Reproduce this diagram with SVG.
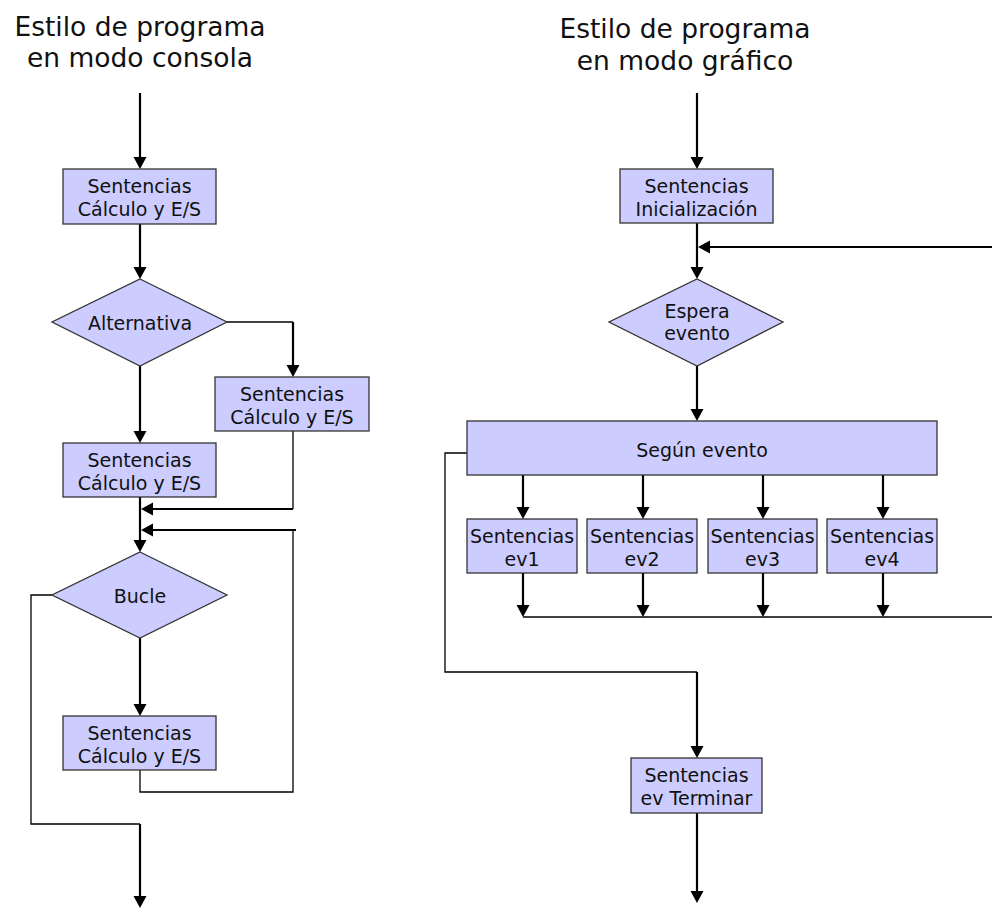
<svg xmlns="http://www.w3.org/2000/svg" width="992" height="910" viewBox="0 0 992 910">
<style>
  .node rect, .node polygon { fill: #CCCCFF; stroke: #333333; stroke-width: 1.3; }
  .node text { font-family: "DejaVu Sans", Verdana, sans-serif; font-size: 19px; fill: #111111; text-anchor: middle; }
  .title { font-family: "DejaVu Sans", Verdana, sans-serif; font-size: 26.5px; fill: #111111; text-anchor: middle; }
  .arr { stroke: #000000; stroke-width: 2.2; fill: none; marker-end: url(#ah); }
  .thin { stroke: #000000; stroke-width: 1.3; fill: none; }
</style>
<defs>
  <marker id="ah" markerUnits="userSpaceOnUse" markerWidth="14" markerHeight="14" refX="9" refY="7" orient="auto">
    <path d="M0,0.5 L12,7 L0,13.5 z" fill="#000000"/>
  </marker>
</defs>
<rect width="992" height="910" fill="#FFFFFF"/>

<g id="title-left">
  <text class="title" x="140" y="36">Estilo de programa</text>
  <text class="title" x="140" y="67">en modo consola</text>
</g>
<g id="title-right">
  <text class="title" x="685" y="38">Estilo de programa</text>
  <text class="title" x="685" y="70">en modo gráfico</text>
</g>

<g id="connectors">
  <!-- left -->
  <line class="arr" x1="140" y1="93" x2="140" y2="166"/>
  <line class="arr" x1="140" y1="224" x2="140" y2="276"/>
  <path class="thin" d="M227,322 H293"/>
  <line class="arr" x1="293" y1="322" x2="293" y2="374"/>
  <line class="arr" x1="140" y1="366" x2="140" y2="440"/>
  <line class="arr" x1="140" y1="497" x2="140" y2="549"/>
  <path class="thin" d="M293,431 V509"/>
  <line class="arr" x1="293" y1="509" x2="144" y2="509"/>
  <line class="arr" x1="296" y1="530" x2="144" y2="530"/>
  <path class="thin" d="M293,530 V792 H140 V770"/>
  <line class="arr" x1="140" y1="638" x2="140" y2="713"/>
  <path class="thin" d="M52,595 H31 V824 H140"/>
  <line class="arr" x1="140" y1="824" x2="140" y2="905"/>
  <!-- right -->
  <line class="arr" x1="697" y1="93" x2="697" y2="166"/>
  <line class="arr" x1="697" y1="223" x2="697" y2="276"/>
  <line class="arr" x1="992" y1="247" x2="701" y2="247"/>
  <line class="arr" x1="697" y1="366" x2="697" y2="418"/>
  <line class="arr" x1="523" y1="475" x2="523" y2="516"/>
  <line class="arr" x1="643" y1="475" x2="643" y2="516"/>
  <line class="arr" x1="763" y1="475" x2="763" y2="516"/>
  <line class="arr" x1="883" y1="475" x2="883" y2="516"/>
  <line class="arr" x1="523" y1="573" x2="523" y2="614"/>
  <line class="arr" x1="643" y1="573" x2="643" y2="614"/>
  <line class="arr" x1="763" y1="573" x2="763" y2="614"/>
  <line class="arr" x1="883" y1="573" x2="883" y2="614"/>
  <path class="thin" d="M523,617 H992"/>
  <path class="thin" d="M467,453 H445 V672 H697"/>
  <line class="arr" x1="697" y1="672" x2="697" y2="755"/>
  <line class="arr" x1="697" y1="813" x2="697" y2="900"/>
</g>

<g id="n-calc1" class="node">
  <rect x="63" y="169" width="153" height="55"/>
  <text x="139.5" y="193">Sentencias</text>
  <text x="139.5" y="216">Cálculo y E/S</text>
</g>
<g id="n-alternativa" class="node">
  <polygon points="140,279 227,322 140,366 52,322"/>
  <text x="140" y="330">Alternativa</text>
</g>
<g id="n-calc2" class="node">
  <rect x="215" y="377" width="154" height="54"/>
  <text x="292" y="401">Sentencias</text>
  <text x="292" y="424">Cálculo y E/S</text>
</g>
<g id="n-calc3" class="node">
  <rect x="63" y="443" width="153" height="54"/>
  <text x="139.5" y="467">Sentencias</text>
  <text x="139.5" y="490">Cálculo y E/S</text>
</g>
<g id="n-bucle" class="node">
  <polygon points="140,552 227,595 140,638 52,595"/>
  <text x="140" y="603">Bucle</text>
</g>
<g id="n-calc4" class="node">
  <rect x="63" y="716" width="153" height="54"/>
  <text x="139.5" y="740">Sentencias</text>
  <text x="139.5" y="763">Cálculo y E/S</text>
</g>

<g id="n-inicializacion" class="node">
  <rect x="620" y="169" width="153" height="54"/>
  <text x="696.5" y="193">Sentencias</text>
  <text x="696.5" y="216">Inicialización</text>
</g>
<g id="n-espera" class="node">
  <polygon points="697,279 783,322 697,366 609,322"/>
  <text x="697" y="318">Espera</text>
  <text x="697" y="340">evento</text>
</g>
<g id="n-segun" class="node">
  <rect x="467" y="421" width="470" height="54"/>
  <text x="702" y="457">Según evento</text>
</g>
<g id="n-ev1" class="node">
  <rect x="467" y="519" width="110" height="54"/>
  <text x="522" y="543">Sentencias</text>
  <text x="522" y="566">ev1</text>
</g>
<g id="n-ev2" class="node">
  <rect x="587" y="519" width="110" height="54"/>
  <text x="642" y="543">Sentencias</text>
  <text x="642" y="566">ev2</text>
</g>
<g id="n-ev3" class="node">
  <rect x="708" y="519" width="109" height="54"/>
  <text x="762.5" y="543">Sentencias</text>
  <text x="762.5" y="566">ev3</text>
</g>
<g id="n-ev4" class="node">
  <rect x="827" y="519" width="110" height="54"/>
  <text x="882" y="543">Sentencias</text>
  <text x="882" y="566">ev4</text>
</g>
<g id="n-terminar" class="node">
  <rect x="631" y="758" width="131" height="55"/>
  <text x="696.5" y="782">Sentencias</text>
  <text x="696.5" y="805">ev Terminar</text>
</g>
</svg>
